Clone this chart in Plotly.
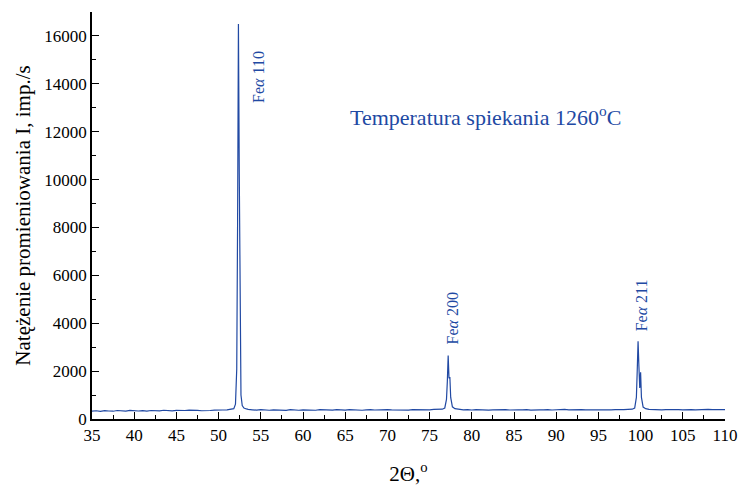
import plotly.graph_objects as go

# ---- data ----
two_theta = [
    35.0, 35.5, 36.0, 36.5, 37.0, 37.5, 38.0, 38.5, 39.0, 39.5, 40.0, 40.5, 41.0, 41.5, 42.0, 42.5,
    43.0, 43.5, 44.0, 44.5, 45.0, 45.5, 46.0, 46.5, 47.0, 47.5, 48.0, 48.5, 49.0, 49.5, 50.0, 50.5,
    51.0, 51.5, 51.8, 52.0, 52.15, 52.25, 52.35, 52.45, 52.55, 52.65, 52.8, 53.0, 53.3,
    53.5, 54.0, 54.5, 55.0, 55.5, 56.0, 56.5, 57.0, 57.5, 58.0, 58.5, 59.0, 59.5, 60.0, 60.5, 61.0,
    61.5, 62.0, 62.5, 63.0, 63.5, 64.0, 64.5, 65.0, 65.5, 66.0, 66.5, 67.0, 67.5, 68.0, 68.5, 69.0,
    69.5, 70.0, 70.5, 71.0, 71.5, 72.0, 72.5, 73.0, 73.5, 74.0, 74.5, 75.0, 75.5, 76.0, 76.5,
    76.8, 77.0, 77.1, 77.2, 77.3, 77.4, 77.5, 77.7, 78.0,
    78.5, 79.0, 79.5, 80.0, 80.5, 81.0, 81.5, 82.0, 82.5, 83.0, 83.5, 84.0, 84.5, 85.0, 85.5, 86.0,
    86.5, 87.0, 87.5, 88.0, 88.5, 89.0, 89.5, 90.0, 90.5, 91.0, 91.5, 92.0, 92.5, 93.0, 93.5, 94.0,
    94.5, 95.0, 95.5, 96.0, 96.5, 97.0, 97.5, 98.0, 98.5, 99.0,
    99.3, 99.5, 99.6, 99.7, 99.8, 99.9, 100.0, 100.1, 100.3, 100.6,
    101.0, 101.5, 102.0, 102.5, 103.0, 103.5, 104.0, 104.5, 105.0, 105.5, 106.0, 106.5, 107.0,
    107.5, 108.0, 108.5, 109.0, 109.5, 110.0,
]
intensity = [
    330, 345, 320, 350, 335, 325, 355, 340, 330, 360, 345, 335, 350, 330, 355, 345,
    340, 365, 350, 340, 360, 345, 355, 370, 350, 360, 345, 365, 355, 370, 360, 375,
    380, 395, 430, 620, 2100, 8200, 16500, 10200, 3200, 1000, 560, 460, 420,
    400, 385, 370, 390, 375, 365, 385, 370, 380, 360, 390, 375, 365, 385, 370, 380,
    365, 390, 375, 385, 370, 395, 380, 370, 390, 375, 385, 365, 380, 395, 375, 385,
    370, 390, 380, 375, 395, 380, 370, 390, 385, 375, 395, 385, 400, 390, 410,
    460, 820, 1550, 2650, 1700, 1750, 900, 510, 430,
    400, 385, 395, 375, 390, 380, 395, 370, 385, 395, 380, 390, 375, 395, 385, 380,
    395, 370, 390, 385, 380, 395, 375, 390, 385, 400, 380, 390, 375, 395, 385, 380,
    395, 385, 375, 390, 380, 395, 385, 390, 400, 410,
    460, 900, 2000, 3250, 2200, 1300, 1950, 900, 500, 430,
    400, 385, 395, 380, 390, 400, 385, 395, 380, 400, 390, 385, 395,
    380, 400, 390, 395, 385, 390,
]

peak_positions = [52.4, 77.2, 99.75]
peak_labels = ["Fe<i>α</i> 110", "Fe<i>α</i> 200", "Fe<i>α</i> 211"]

x_ticks = list(range(35, 111, 5))
y_ticks = list(range(0, 16001, 2000))
y_tick_text = [str(v) for v in y_ticks]

BLUE = "#2149a3"
FONT = "Liberation Serif"

fig = go.Figure()
fig.add_trace(go.Scatter(
    x=two_theta, y=intensity, mode="lines",
    line=dict(color=BLUE, width=1.2), showlegend=False, hoverinfo="skip",
))

label_y = [14300, 4200, 4750]
label_dx = [2.3, 0.45, 0.3]
for px, lbl, ly, dx in zip(peak_positions, peak_labels, label_y, label_dx):
    fig.add_annotation(
        x=px + dx, y=ly, xref="x", yref="y", text=lbl, showarrow=False,
        textangle=-90, font=dict(family=FONT, size=16, color=BLUE),
    )

fig.add_annotation(
    x=81.6, y=12650, xref="x", yref="y",
    text="Temperatura spiekania 1260<sup>o</sup>C", showarrow=False,
    font=dict(family=FONT, size=22, color=BLUE),
)

fig.update_layout(
    width=738, height=486,
    margin=dict(l=92, r=13, t=12, b=67),
    paper_bgcolor="white", plot_bgcolor="white",
    font=dict(family=FONT, size=17, color="black"),
)
fig.update_xaxes(
    range=[35, 110], tickvals=x_ticks, ticks="inside", ticklen=7, tickwidth=1.3,
    tickcolor="black", showline=True, linecolor="black", linewidth=1.5,
    showgrid=False, zeroline=False, automargin=False,
    minor=dict(ticks="inside", ticklen=4, dtick=2.5, tick0=35, tickcolor="black", tickwidth=1.2),
    title=dict(text="2Θ,<sup>o</sup>", font=dict(family=FONT, size=21), standoff=25),
    tickfont=dict(family=FONT, size=17),
)
fig.update_yaxes(
    range=[0, 17000], tickvals=y_ticks, ticktext=y_tick_text, ticks="inside", ticklen=7, tickwidth=1.3,
    tickcolor="black", showline=True, linecolor="black", linewidth=1.5,
    showgrid=False, zeroline=False, automargin=False,
    minor=dict(ticks="inside", ticklen=4, dtick=1000, tickcolor="black", tickwidth=1.2),
    title=dict(text="Natężenie promieniowania I, imp./s", font=dict(family=FONT, size=21), standoff=8),
    tickfont=dict(family=FONT, size=17),
)

fig.write_html("out.html")
